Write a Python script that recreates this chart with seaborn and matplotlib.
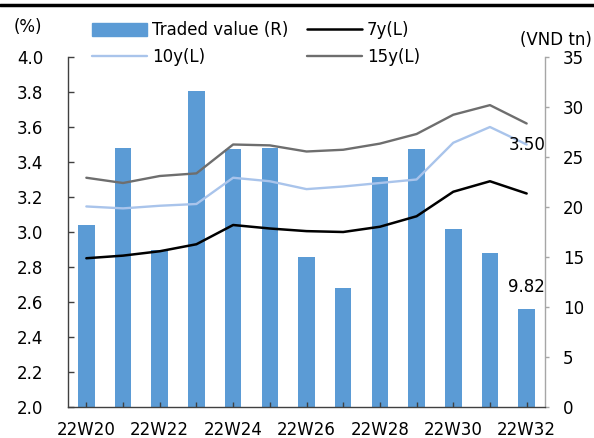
import matplotlib
matplotlib.use("Agg")
import matplotlib.pyplot as plt
import seaborn as sns
import numpy as np
import pandas as pd
from matplotlib.lines import Line2D

weeks = ["22W20", "22W21", "22W22", "22W23", "22W24", "22W25", "22W26",
         "22W27", "22W28", "22W29", "22W30", "22W31", "22W32"]
traded_value = [18.2, 25.9, 15.7, 31.6, 25.8, 25.9, 15.0, 11.9, 23.0, 25.8, 17.8, 15.4, 9.82]
y7 = [2.85, 2.865, 2.89, 2.93, 3.04, 3.02, 3.005, 3.00, 3.03, 3.09, 3.23, 3.29, 3.22]
y10 = [3.146, 3.135, 3.15, 3.16, 3.31, 3.29, 3.245, 3.26, 3.28, 3.30, 3.51, 3.60, 3.50]
y15 = [3.31, 3.28, 3.32, 3.335, 3.50, 3.495, 3.46, 3.47, 3.505, 3.56, 3.67, 3.725, 3.62]
left_ticks = [2.0, 2.2, 2.4, 2.6, 2.8, 3.0, 3.2, 3.4, 3.6, 3.8, 4.0]
right_ticks = [0, 5, 10, 15, 20, 25, 30, 35]

sns.set_theme(style="white")
plt.rcParams['font.family'] = ['DejaVu Sans']
plt.rcParams['text.color'] = 'black'
plt.rcParams['xtick.labelcolor'] = 'black'
plt.rcParams['ytick.labelcolor'] = 'black'
FS = 12

bar_color = "#5B9BD5"
c7 = "#000000"
c10 = "#A9C4EB"
c15 = "#6E6E6E"

df = pd.DataFrame({"week": weeks, "value": traded_value,
                   "pos": np.arange(len(weeks)), "y7": y7, "y10": y10, "y15": y15})

fig = plt.figure(figsize=(5.94, 4.38), dpi=100)
ax = fig.add_axes([68/594, 1-407/438, (545-68)/594, (407-57)/438])
ax2 = ax.twinx()

sns.barplot(data=df, x="week", y="value", ax=ax2, color=bar_color, width=0.45,
            saturation=1, edgecolor="none")
sns.lineplot(data=df, x="pos", y="y10", ax=ax, color=c10, linewidth=1.7)
sns.lineplot(data=df, x="pos", y="y15", ax=ax, color=c15, linewidth=1.7)
sns.lineplot(data=df, x="pos", y="y7", ax=ax, color=c7, linewidth=1.8)

ax.set_zorder(ax2.get_zorder() + 1)
ax.patch.set_visible(False)

ax.set_xlim(-0.5, len(weeks) - 0.5)
ax2.set_xlim(-0.5, len(weeks) - 0.5)
ax.set_ylim(2.0, 4.0)
ax2.set_ylim(0, 35)

ax.set_xticks(np.arange(len(weeks)))
ax.set_xticklabels([w if i % 2 == 0 else "" for i, w in enumerate(weeks)], fontsize=FS)
ax.set_yticks(left_ticks)
ax.set_yticklabels([f"{t:.1f}" for t in left_ticks], fontsize=FS)
ax2.set_yticks(right_ticks)
ax2.set_yticklabels([str(t) for t in right_ticks], fontsize=FS)
ax.set_xlabel("")
ax.set_ylabel("")
ax2.set_xlabel("")
ax2.set_ylabel("")
ax2.tick_params(axis="x", bottom=False, labelbottom=False)

for a in (ax, ax2):
    a.spines["top"].set_visible(False)
    a.grid(False)
ax2.spines["left"].set_visible(False)
ax2.spines["bottom"].set_visible(False)
ax.spines["right"].set_visible(False)
ax.spines["left"].set_color("#404040")
ax.spines["bottom"].set_color("#404040")
ax2.spines["right"].set_color("#A6A6A6")
for s in ("left", "bottom"):
    ax.spines[s].set_linewidth(1.0)
ax2.spines["right"].set_linewidth(1.0)

ax.tick_params(axis="x", direction="in", length=3.5, width=1, color="#404040", pad=10, bottom=True)
ax.tick_params(axis="y", direction="in", length=4, width=1, color="#404040", pad=18, left=True)
ax2.tick_params(axis="y", direction="out", length=3, width=1, color="#A6A6A6", pad=10, right=True)

ax.text(12, y10[-1], f"{y10[-1]:.2f}", ha="center", va="center", fontsize=FS, color="black")
ax2.annotate(f"{traded_value[-1]:.2f}", xy=(12, traded_value[-1]), xytext=(0, 9),
             textcoords="offset points", ha="center", va="bottom", fontsize=FS, color="black")

fig.text(28/594, 1-27/438, "(%)", ha="center", va="center", fontsize=FS)
fig.text(556/594, 1-40/438, "(VND tn)", ha="center", va="center", fontsize=FS)

fig.add_artist(Line2D([0, 1], [1-5/438, 1-5/438], color="black", linewidth=2.5,
                      transform=fig.transFigure))

handles = [
    plt.Rectangle((0, 0), 1, 1, color=bar_color),
    Line2D([], [], color=c10, linewidth=1.7),
    Line2D([], [], color=c7, linewidth=1.8),
    Line2D([], [], color=c15, linewidth=1.7),
]
labels = ["Traded value (R)", "10y(L)", "7y(L)", "15y(L)"]
fig.legend(handles, labels, ncol=2, loc="upper left", bbox_to_anchor=(92/594, 1-21/438),
           frameon=False, fontsize=FS, handlelength=3.3, handleheight=0.8,
           handletextpad=0.3, columnspacing=1.1, labelspacing=0.55,
           borderpad=0, borderaxespad=0)

fig.savefig("out.png", dpi=100)
